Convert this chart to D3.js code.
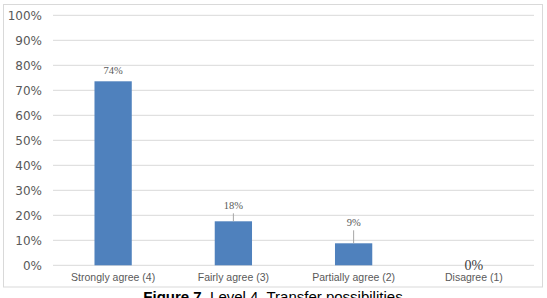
<!DOCTYPE html>
<html>
<head>
<meta charset="utf-8">
<script src="https://cdn.jsdelivr.net/npm/d3@7"></script>
<style>
  body { margin: 0; background: #fff; }
  svg { display: block; }
</style>
</head>
<body>
<script>
var width = 547,
    height = 298;

// data
var categories = ["Strongly agree (4)", "Fairly agree (3)", "Partially agree (2)", "Disagree (1)"];
var values = [0.736, 0.176, 0.088, 0];
var yTicks = [0, 0.1, 0.2, 0.3, 0.4, 0.5, 0.6, 0.7, 0.8, 0.9, 1];

var plot = {left: 53, right: 534, top: 15.3, bottom: 265.3};

// label offsets above bars (px); the small bars use leader lines
var labelLift = [5, 10, 15, -7];

var rows = categories.map(function(c, i) {
  return {cat: c, value: values[i], lift: labelLift[i], idx: i};
});

var svg = d3.select("body")
            .append("svg")
            .attr("width", width)
            .attr("height", height);

// chart area frame
svg.append("rect")
   .attr("x", 3.5)
   .attr("y", 4.5)
   .attr("width", 539)
   .attr("height", 282.5)
   .attr("fill", "#fff")
   .attr("stroke", "#d9d9d9")
   .attr("stroke-width", 1);

var x = d3.scaleBand()
          .domain(categories)
          .range([plot.left, plot.right])
          .paddingInner(0.69)
          .paddingOuter(0.345);

var y = d3.scaleLinear()
          .domain([0, 1])
          .range([plot.bottom, plot.top]);

var pct = d3.format(".0%");

function cx(d) { return x(d.cat) + x.bandwidth() / 2; }

// gridlines
svg.append("g")
   .selectAll("line")
   .data(yTicks)
   .enter()
   .append("line")
   .attr("x1", plot.left)
   .attr("x2", plot.right)
   .attr("y1", function(d) { return y(d); })
   .attr("y2", function(d) { return y(d); })
   .attr("stroke", "#d9d9d9")
   .attr("stroke-width", 1);

// y axis labels
var yAxis = svg.append("g")
   .attr("transform", "translate(" + plot.left + ",0)")
   .call(d3.axisLeft(y).tickValues(yTicks).tickFormat(pct).tickSize(0).tickPadding(11));
yAxis.select(".domain").remove();
yAxis.selectAll("text")
     .attr("fill", "#595959")
     .style("font-family", "DejaVu Sans")
     .style("font-size", "12px");

// x axis labels
var xAxis = svg.append("g")
   .attr("transform", "translate(0," + plot.bottom + ")")
   .call(d3.axisBottom(x).tickSize(0).tickPadding(8));
xAxis.select(".domain").remove();
xAxis.selectAll("text")
     .attr("fill", "#595959")
     .style("font-family", "Liberation Sans, Arial, sans-serif")
     .style("font-size", "10.5px");

// bars
svg.append("g")
   .selectAll("rect")
   .data(rows)
   .enter()
   .append("rect")
   .attr("x", function(d) { return x(d.cat); })
   .attr("y", function(d) { return y(d.value); })
   .attr("width", x.bandwidth())
   .attr("height", function(d) { return y(0) - y(d.value); })
   .attr("fill", "#4f81bd");

// leader lines
svg.append("g")
   .selectAll("line")
   .data(rows.filter(function(d) { return d.lift >= 10; }))
   .enter()
   .append("line")
   .attr("x1", cx)
   .attr("x2", cx)
   .attr("y1", function(d) { return y(d.value); })
   .attr("y2", function(d) { return y(d.value) - d.lift + 2; })
   .attr("stroke", "#a6a6a6")
   .attr("stroke-width", 1);

// data labels
svg.append("g")
   .selectAll("text")
   .data(rows)
   .enter()
   .append("text")
   .attr("x", cx)
   .attr("y", function(d) { return y(d.value) - d.lift - 2; })
   .attr("text-anchor", "middle")
   .attr("fill", function(d) { return d.idx === 3 ? "#404040" : "#595959"; })
   .style("font-family", "Liberation Serif, serif")
   .style("font-size", function(d) { return d.idx === 3 ? "14px" : "10.5px"; })
   .text(function(d) { return pct(d.value); });

// caption
var cap = svg.append("text")
   .attr("x", 273)
   .attr("y", 302)
   .attr("text-anchor", "middle")
   .attr("fill", "#000")
   .style("font-family", "Liberation Sans, Arial, sans-serif")
   .style("font-size", "15px");
cap.append("tspan").style("font-weight", "bold").text("Figure 7");
cap.append("tspan").text(". Level 4. Transfer possibilities");
</script>
</body>
</html>
